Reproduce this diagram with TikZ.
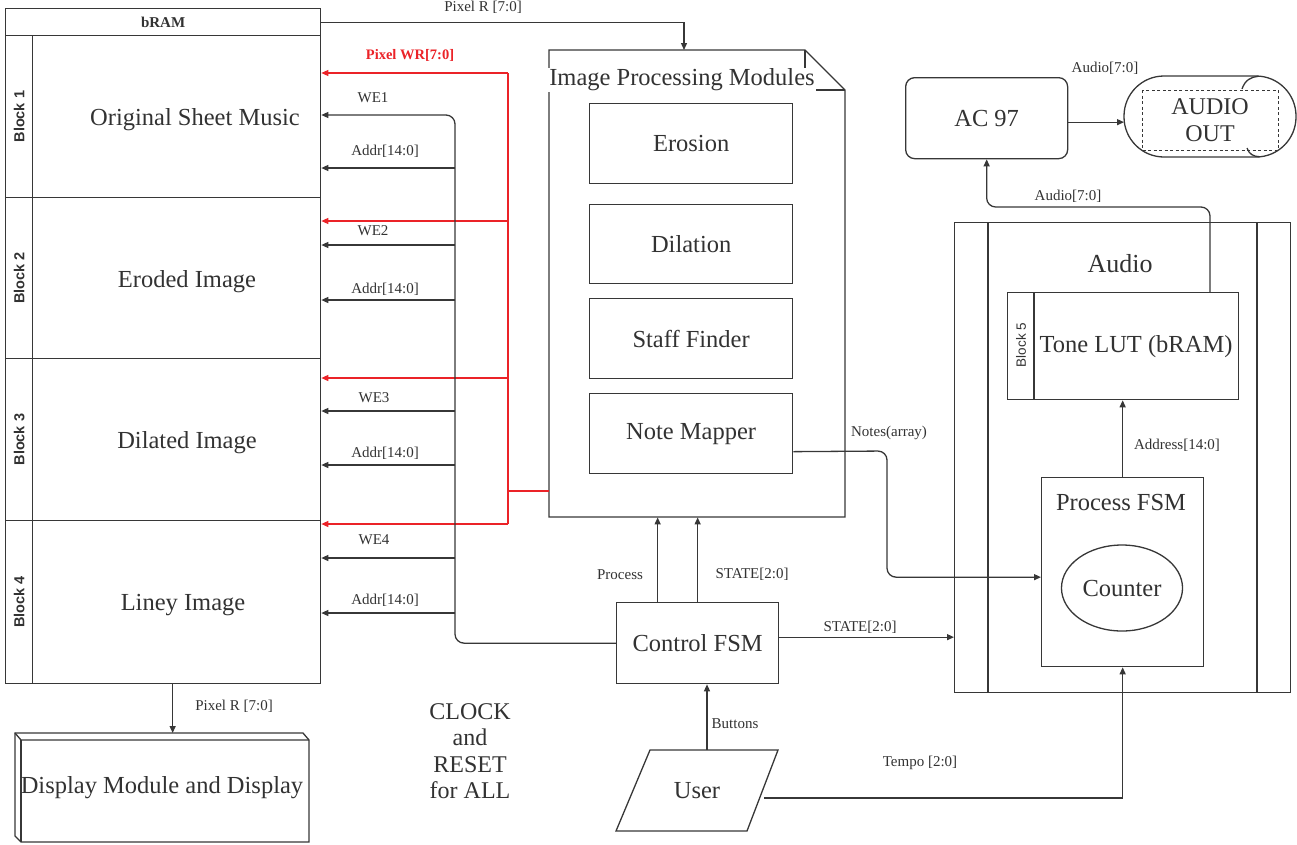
\documentclass[tikz,border=0pt]{standalone}
\usepackage{fontspec}
\setmainfont{Liberation Serif}
\newfontfamily\serifont{Liberation Serif}
\newfontfamily\blockfont{Liberation Sans}
\usetikzlibrary{arrows.meta,shapes.geometric,calc}
\definecolor{ln}{RGB}{55,55,55}
\definecolor{txt}{RGB}{50,50,50}
\definecolor{rd}{RGB}{235,35,40}
\begin{document}
\begin{tikzpicture}[x=1pt,y=-1pt,
  box/.style={draw=ln, line width=1.3pt, inner sep=0pt, anchor=north west},
  ghost/.style={inner sep=0pt, anchor=north west},
  big/.style={font=\serifont\fontsize{24.5}{27}\selectfont, text=txt},
  lbl/.style={font=\serifont\fontsize{15}{16}\selectfont, text=txt, inner sep=1pt},
  rlbl/.style={font=\serifont\bfseries\fontsize{14.5}{16}\selectfont, text=rd, inner sep=1pt},
  blk/.style={font=\blockfont\bfseries\fontsize{14.5}{14.5}\selectfont, text=txt, rotate=90},
  line/.style={draw=ln, line width=1.3pt},
  arr/.style={draw=ln, line width=1.3pt, -{Triangle[length=7pt,width=6pt]}},
  redline/.style={draw=rd, line width=1.3pt},
  redarr/.style={draw=rd, line width=1.3pt, -{Triangle[length=7pt,width=6pt]}}
]
\useasboundingbox (0,0) rectangle (1297,844);

% ---------- bRAM ----------
\node[box, minimum width=315pt, minimum height=27pt, font=\serifont\bfseries\fontsize{15}{15}\selectfont, text=txt] (bramhdr) at (5,8) {bRAM};
\node[box, minimum width=27pt, minimum height=162pt] (l1) at (5,35) {};
\node[box, minimum width=27pt, minimum height=161pt] (l2) at (5,197) {};
\node[box, minimum width=27pt, minimum height=162pt] (l3) at (5,358) {};
\node[box, minimum width=27pt, minimum height=163pt] (l4) at (5,520) {};
\node[box, minimum width=288pt, minimum height=162pt] (b1) at (32,35) {};
\node[box, minimum width=288pt, minimum height=161pt] (b2) at (32,197) {};
\node[box, minimum width=288pt, minimum height=162pt] (b3) at (32,358) {};
\node[box, minimum width=288pt, minimum height=163pt] (b4) at (32,520) {};
\node[blk] (bl1) at (l1.center) {Block 1};
\node[blk] (bl2) at (l2.center) {Block 2};
\node[blk] (bl3) at (l3.center) {Block 3};
\node[blk] (bl4) at (l4.center) {Block 4};
\node[big] (t1) at (195,120) {Original Sheet Music};
\node[big] (t2) at (187,282) {Eroded Image};
\node[big] (t3) at (187,443) {Dilated Image};
\node[big] (t4) at (183,605) {Liney Image};

% ---------- Image processing modules ----------
\node[ghost, minimum width=296pt, minimum height=467pt] (ipm) at (549,50) {};
\draw[line] (549,50) -- (805,50) -- (845,90) -- (845,517) -- (549,517) -- cycle;
\draw[line] (805,50) -- (805,90) -- (845,90);
\node[big, fill=white, inner sep=1pt] (ipmt) at (682,80) {Image Processing Modules};
\node[box, big, minimum width=203pt, minimum height=80pt] (ero) at (589,103) {Erosion};
\node[box, big, minimum width=203pt, minimum height=79pt] (dil) at (589,204) {Dilation};
\node[box, big, minimum width=203pt, minimum height=80pt] (sf) at (589,298) {Staff Finder};
\node[box, big, minimum width=203pt, minimum height=80pt] (nm) at (589,393) {Note Mapper};

% ---------- Control FSM ----------
\node[box, big, minimum width=162pt, minimum height=81pt] (cfsm) at (616,602) {Control FSM};

% ---------- User ----------
\draw[line] (616,831) -- (747,831) -- (778,750) -- (650,750) -- cycle;
\node[big, minimum width=100pt, minimum height=81pt, inner sep=0pt] (user) at (697,790.5) {User};

% ---------- Display ----------
\node[ghost, minimum width=294pt, minimum height=109pt] (disp) at (15,733) {};
\draw[line] (15,733) -- (303,733) -- (309,740) -- (309,842) -- (21,842) -- (15,836) -- cycle;
\draw[line] (15,733) -- (21,740) -- (309,740);
\draw[line] (21,740) -- (21,842);
\node[big] (dispt) at (162,788) {Display Module and Display};

% ---------- CLOCK ----------
\node[big, align=center, font=\serifont\fontsize{24}{26.5}\selectfont] (clk) at (470,751) {CLOCK\\and\\RESET\\for ALL};

% ---------- Audio ----------
\node[box, minimum width=336pt, minimum height=470pt] (audio) at (954,222) {};
\draw[line] (988,222) -- (988,692);
\draw[line] (1257,222) -- (1257,692);
\node[big, font=\serifont\fontsize{26}{28}\selectfont] (audiot) at (1120,264) {Audio};
\node[box, minimum width=231pt, minimum height=107pt] (lut) at (1007,292) {};
\draw[line] (1034,292) -- (1034,399);
\node[font=\blockfont\fontsize{13.5}{13.5}\selectfont, text=txt, rotate=90] (bl5) at (1021,345) {Block 5};
\node[big] (lutt) at (1136,347) {Tone LUT (bRAM)};
\node[box, minimum width=162pt, minimum height=189pt] (pfsm) at (1041,477) {};
\node[big] (pfsmt) at (1121,502) {Process FSM};
\node[draw=ln, line width=1.3pt, ellipse, minimum width=108pt, minimum height=86pt, big] (cnt) at (1122,588) {Counter};

% ---------- AC97 / Audio out ----------
\node[box, big, rounded corners=9pt, minimum width=162pt, minimum height=81pt] (ac97) at (905,77) {AC 97};
\node[ghost, minimum width=172pt, minimum height=81pt] (aout) at (1124,76) {};
\draw[line, rounded corners=40pt] (1124,76) rectangle (1296,157);
\draw[draw=ln, line width=1pt, dash pattern=on 3pt off 2.5pt] (1142,90) rectangle (1278,150);
\draw[line] (1242,89) .. controls (1245,80) and (1251,77) .. (1258,76.3);
\draw[line] (1247,148) .. controls (1249,154) and (1253,156.5) .. (1260,156.8);
\node[big, align=center, font=\serifont\fontsize{24}{27}\selectfont] (aoutt) at (1210,120) {AUDIO\\OUT};

% ---------- connectors ----------
% top Pixel R
\coordinate (ipmin) at (684,50);
\draw[arr] (bramhdr.east) -- (bramhdr.east -| ipmin) -- (ipmin);
\node[lbl] (lprt) at (483,7) {Pixel R [7:0]};

% red Pixel WR bus
\coordinate (rtop) at (508,73);
\coordinate (r2) at (508,221);
\coordinate (r3) at (508,378);
\coordinate (rbot) at (508,524);
\coordinate (rin) at (508,491);
\draw[redline] (rtop) -- (rbot);
\draw[redline] (ipm.west |- rin) -- (rin);
\draw[redarr] (rtop) -- (rtop -| b1.east);
\draw[redarr] (r2) -- (r2 -| b2.east);
\draw[redarr] (r3) -- (r3 -| b3.east);
\draw[redarr] (rbot) -- (rbot -| b4.east);
\node[rlbl] (lpwr) at (410,55) {Pixel WR[7:0]};

% black WE/Addr bus
\coordinate (bustop) at (455,115);
\draw[arr, rounded corners=9pt] (cfsm.west) -- (cfsm.west -| bustop) -- (bustop) -- (bustop -| b1.east);
\coordinate (a1) at (455,168);
\coordinate (w2) at (455,245);
\coordinate (a2) at (455,300);
\coordinate (w3) at (455,411);
\coordinate (a3) at (455,465);
\coordinate (w4) at (455,558);
\coordinate (a4) at (455,613);
\draw[arr] (a1) -- (a1 -| b1.east);
\draw[arr] (w2) -- (w2 -| b2.east);
\draw[arr] (a2) -- (a2 -| b2.east);
\draw[arr] (w3) -- (w3 -| b3.east);
\draw[arr] (a3) -- (a3 -| b3.east);
\draw[arr] (w4) -- (w4 -| b4.east);
\draw[arr] (a4) -- (a4 -| b4.east);
\node[lbl] (lwe1) at (373,98) {WE1};
\node[lbl] (lad1) at (385,151) {Addr[14:0]};
\node[lbl] (lwe2) at (373,231) {WE2};
\node[lbl] (lad2) at (385,289) {Addr[14:0]};
\node[lbl] (lwe3) at (374,398) {WE3};
\node[lbl] (lad3) at (385,453) {Addr[14:0]};
\node[lbl] (lwe4) at (374,540) {WE4};
\node[lbl] (lad4) at (385,600) {Addr[14:0]};

% bottom Pixel R to display
\draw[arr] ([xshift=-4pt]b4.south) -- ([xshift=-4pt]b4.south |- disp.north);
\node[lbl] (lprb) at (234,706) {Pixel R [7:0]};

% Control FSM up to IPM
\draw[arr] ([xshift=-40pt]cfsm.north) -- ([xshift=-40pt]cfsm.north |- ipm.south);
\draw[arr] (cfsm.north) -- (cfsm.north |- ipm.south);
\node[lbl] (lproc) at (620,575) {Process};
\node[lbl] (lst1) at (752,574) {STATE[2:0]};

% Control FSM to Audio
\draw[arr] ([yshift=6pt]cfsm.east) -- ([yshift=6pt]cfsm.east -| audio.west);
\node[lbl] (lst2) at (860,627) {STATE[2:0]};

% User to Control FSM
\draw[arr] ([xshift=10pt]user.north) -- ([xshift=10pt]user.north |- cfsm.south);
\node[lbl] (lbtn) at (735,724) {Buttons};

% Tempo
\coordinate (tp) at (764,798);
\draw[arr] (tp) -- (tp -| pfsm.south) -- (pfsm.south);
\node[lbl] (ltmp) at (920,763) {Tempo [2:0]};

% Notes
\coordinate (nx) at (887,451);
\coordinate (pin) at ([yshift=-5pt]pfsm.west);
\draw[arr, rounded corners=9pt] ([yshift=-18pt]nm.east) -- (nx) -- (nx |- pin) -- (pin);
\node[lbl] (lnotes) at (889,433) {Notes(array)};

% Address
\draw[arr] (pfsm.north) -- (pfsm.north |- lut.south);
\node[lbl] (laddr) at (1177,445) {Address[14:0]};

% Audio to AC97
\coordinate (ab) at (1210,207);
\draw[arr, rounded corners=9pt] (ab |- lut.north) -- (ab) -- (ab -| ac97.south) -- (ac97.south);
\node[lbl] (laud2) at (1068,196) {Audio[7:0]};

% AC97 to Audio out
\draw[arr] ([yshift=-4pt]ac97.east) -- ([yshift=-4pt]ac97.east -| aout.west);
\node[lbl] (laud1) at (1105,68) {Audio[7:0]};
\end{tikzpicture}
\end{document}
